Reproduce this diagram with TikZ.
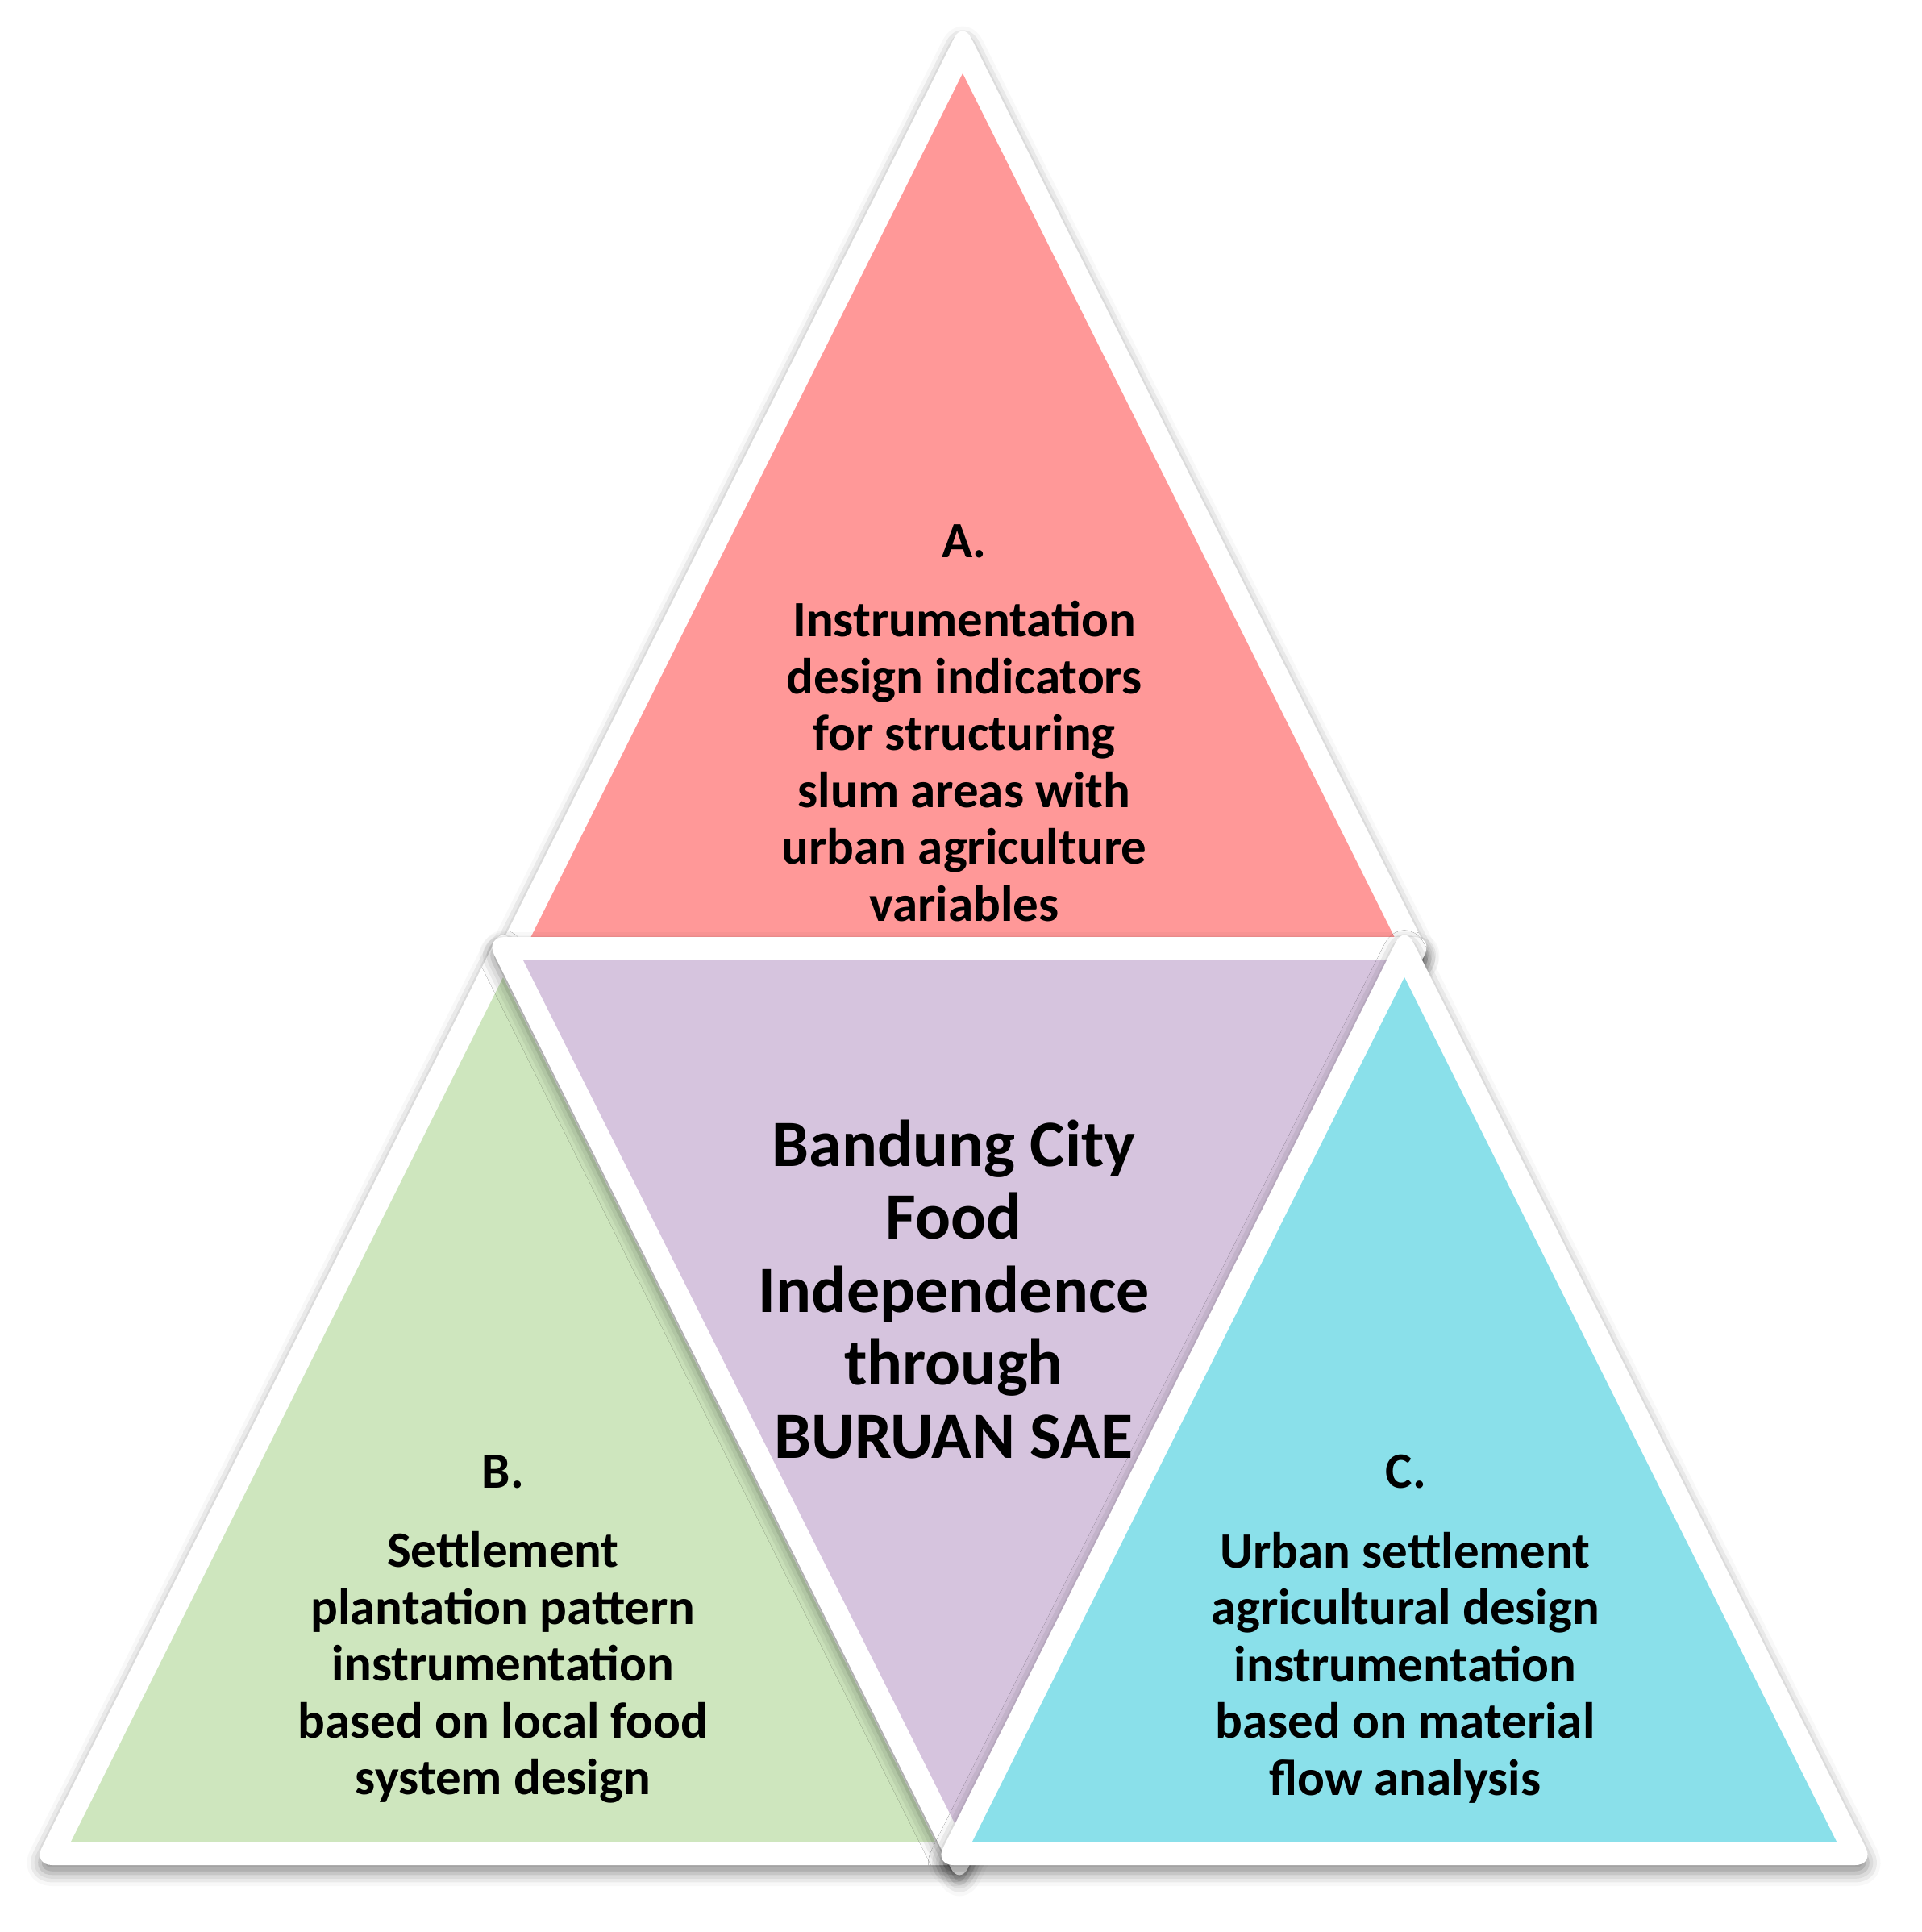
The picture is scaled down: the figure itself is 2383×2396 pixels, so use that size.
\documentclass[tikz,border=0pt]{standalone}
\usepackage{fontspec}
\setmainfont{Carlito}
\usetikzlibrary{shadows.blur}
\definecolor{pinkA}{HTML}{FF9898}
\definecolor{purpleM}{HTML}{D6C4DE}
\definecolor{greenB}{HTML}{CEE6BE}
\definecolor{cyanC}{HTML}{8AE0EA}
\tikzset{
  outerband/.style={fill=white, rounded corners=24pt,
    blur shadow={shadow xshift=0pt, shadow yshift=-10pt, shadow blur radius=16pt, shadow opacity=45}},
  smalltext/.style={font=\bfseries\fontsize{63}{70.5}\selectfont, align=center, inner sep=0pt, text=black},
  bigtext/.style={font=\bfseries\fontsize{82}{90.5}\selectfont, align=center, inner sep=0pt, text=black}
}
\begin{document}
\begin{tikzpicture}[x=1pt,y=-1pt]
\useasboundingbox (0,0) rectangle (2383,2396);
% A (top)
\path[outerband] (1194,26) -- (1777,1192) -- (611,1192) -- cycle;
\fill[pinkA] (1194,91) -- (1730,1163) -- (658,1163) -- cycle;
% B (bottom left)
\path[outerband] (624,1147) -- (1207,2313) -- (41,2313) -- cycle;
\fill[greenB] (624,1212) -- (1160,2284) -- (88,2284) -- cycle;
% centre (inverted)
\path[outerband] (602,1162) -- (1778,1162) -- (1190,2338) -- cycle;
\fill[purpleM] (649,1191) -- (1731,1191) -- (1190,2273) -- cycle;
% C (bottom right)
\path[outerband] (1742,1147) -- (2325,2313) -- (1159,2313) -- cycle;
\fill[cyanC] (1742,1212) -- (2278,2284) -- (1206,2284) -- cycle;
% texts
\node[smalltext] (labA) at (1196,671) {A.};
\node[smalltext] (txtA) at (1196,944) {Instrumentation\\design indicators\\for structuring\\slum areas with\\urban agriculture\\variables};
\node[bigtext] (txtM) at (1183,1599) {Bandung City\\Food\\Independence\\through\\BURUAN SAE};
\node[smalltext] (labB) at (624,1825) {B.};
\node[smalltext] (txtB) at (624,2068) {Settlement\\plantation pattern\\instrumentation\\based on local food\\system design};
\node[smalltext] (labC) at (1744,1825) {C.};
\node[smalltext] (txtC) at (1743,2068) {Urban settlement\\agricultural design\\instrumentation\\based on material\\flow analysis};
\end{tikzpicture}
\end{document}
